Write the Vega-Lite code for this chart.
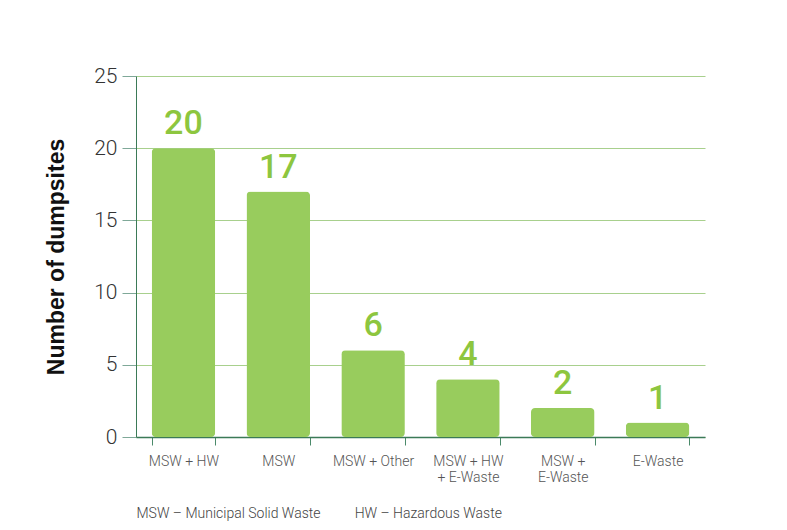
{
  "$schema": "https://vega.github.io/schema/vega-lite/v6.json",
  "width": 569,
  "height": 361,
  "autosize": "none",
  "padding": {"left": 136, "top": 76, "right": 82, "bottom": 93},
  "background": "white",
  "config": {
    "view": {"stroke": null},
    "axis": {"labelFont": "Roboto", "titleFont": "Liberation Sans"}
  },
  "data": {
    "values": [
      {"type": "MSW + HW", "count": 20},
      {"type": "MSW", "count": 17},
      {"type": "MSW + Other", "count": 6},
      {"type": "MSW + HW|+ E-Waste", "count": 4},
      {"type": "MSW +|E-Waste", "count": 2},
      {"type": "E-Waste", "count": 1}
    ]
  },
  "encoding": {
    "x": {
      "field": "type",
      "type": "nominal",
      "sort": null,
      "scale": {"paddingInner": 0.33, "paddingOuter": 0.165},
      "axis": {
        "labelAngle": 0,
        "labelExpr": "split(datum.label, '|')",
        "labelFontSize": 14,
        "labelFontWeight": 300,
        "labelColor": "#555555",
        "labelPadding": 9,
        "labelLineHeight": 16,
        "tickBand": "extent",
        "tickSize": 8,
        "tickColor": "#4a8a6a",
        "domainColor": "#3b7a57",
        "domainWidth": 1.5,
        "title": "MSW – Municipal Solid Waste\u00a0\u00a0\u00a0\u00a0\u00a0\u00a0\u00a0\u00a0\u00a0\u00a0HW – Hazardous Waste",
        "titleFont": "Roboto",
        "titleFontWeight": 300,
        "titleFontSize": 14,
        "titleColor": "#444444",
        "titleAnchor": "start",
        "titleAlign": "left",
        "titlePadding": 22
      }
    },
    "y": {
      "field": "count",
      "type": "quantitative",
      "scale": {"domain": [0, 25]},
      "axis": {
        "values": [0, 5, 10, 15, 20, 25],
        "title": "Number of dumpsites",
        "titleFontSize": 23,
        "titleFontWeight": "bold",
        "titleColor": "#111111",
        "titlePadding": 25,
        "labelFontSize": 21,
        "labelFontWeight": 300,
        "labelColor": "#333333",
        "labelPadding": 5,
        "tickSize": 14,
        "tickColor": "#7fa898",
        "domainColor": "#3b7a57",
        "grid": true,
        "gridColor": "#a8d08d",
        "gridWidth": 1
      }
    }
  },
  "layer": [
    {
      "mark": {"type": "bar", "color": "#98cc5d", "cornerRadius": 4}
    },
    {
      "mark": {
        "type": "text",
        "baseline": "alphabetic",
        "dy": -14,
        "font": "Roboto",
        "fontWeight": 500,
        "fontSize": 34,
        "color": "#8dc63f"
      },
      "encoding": {"text": {"field": "count", "type": "quantitative"}}
    }
  ]
}
